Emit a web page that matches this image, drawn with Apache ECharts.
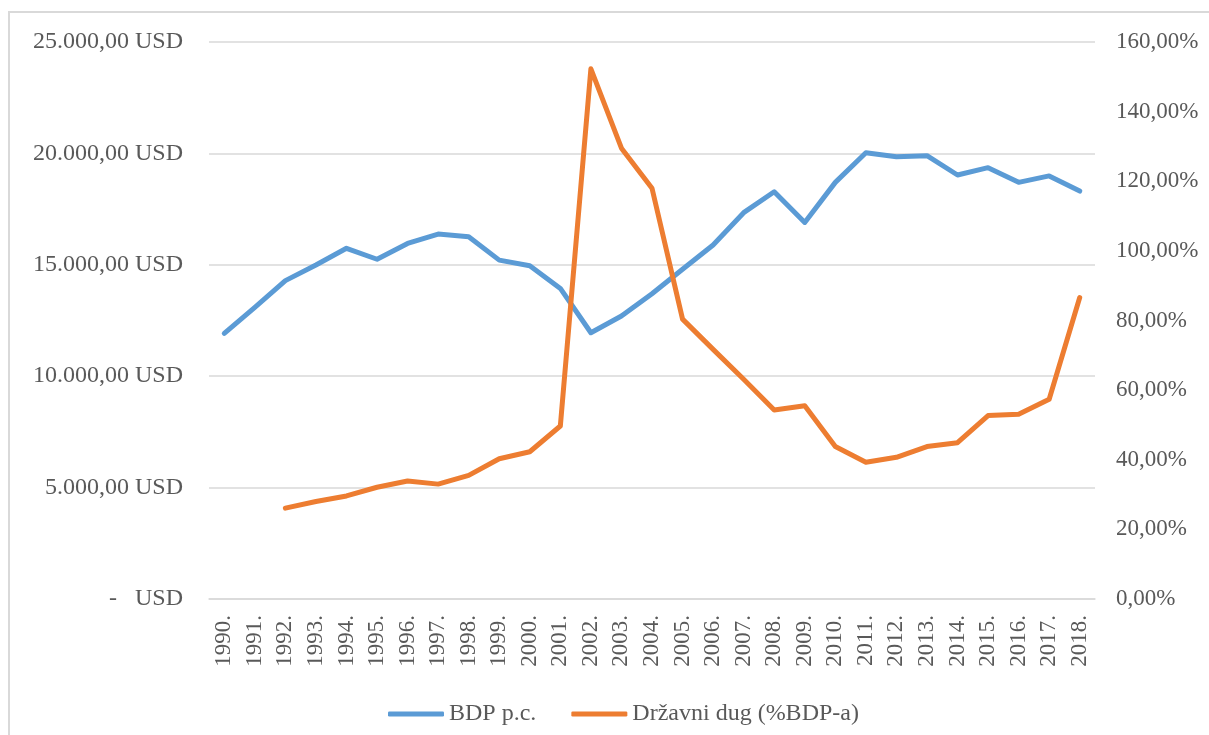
<!DOCTYPE html>
<html>
<head>
<meta charset="utf-8">
<script src="https://cdn.jsdelivr.net/npm/echarts@6/dist/echarts.min.js"></script>
<style>
  html, body { margin: 0; padding: 0; background: #fff; }
  #frame { position: absolute; left: 8px; top: 11px; right: -5px; bottom: -5px;
           border-left: 2px solid #d9d9d9; border-top: 2px solid #d9d9d9; }
  #chart { position: absolute; left: 0; top: 0; width: 1209px; height: 735px; }
</style>
</head>
<body>
<div id="frame"></div>
<div id="chart"></div>
<script>
// godine
var godine = ['1990.', '1991.', '1992.', '1993.', '1994.', '1995.', '1996.', '1997.', '1998.', '1999.',
  '2000.', '2001.', '2002.', '2003.', '2004.', '2005.', '2006.', '2007.', '2008.', '2009.',
  '2010.', '2011.', '2012.', '2013.', '2014.', '2015.', '2016.', '2017.', '2018.'];

// BDP po stanovniku (USD)
var bdpPc = [11920, 13090, 14290, 14990, 15740, 15250, 15960, 16380, 16260, 15210,
  14960, 13940, 11950, 12700, 13700, 14800, 15890, 17340, 18280, 16900,
  18700, 20030, 19850, 19900, 19030, 19360, 18700, 18990, 18310];

// Državni dug (% BDP-a), nema podataka za 1990. i 1991.
var drzavniDug = [null, null, 26.1, 28.0, 29.6, 32.1, 33.9, 33.0, 35.5, 40.3,
  42.3, 49.7, 152.3, 129.5, 118.0, 80.4, 71.7, 63.1, 54.3, 55.5,
  43.8, 39.3, 40.7, 43.8, 44.9, 52.7, 53.1, 57.4, 86.6];

var font = 'Liberation Serif, Times New Roman, serif';

function usd(v) {
  if (v === 0) return '-   USD';
  var s = String(v).replace(/\B(?=(\d{3})+(?!\d))/g, '.');
  return s + ',00 USD';
}

var myChart = echarts.init(document.getElementById('chart'));

var option = {
  animation: false,
  grid: { left: 209, right: 114, top: 42, bottom: 136 },
  legend: {
    top: 697,
    left: 383,
    itemWidth: 56,
    itemHeight: 5,
    itemGap: 35,
    icon: 'roundRect',
    textStyle: { fontFamily: font, fontSize: 24, color: '#595959' },
    data: ['BDP p.c.', 'Državni dug (%BDP-a)']
  },
  xAxis: {
    type: 'category',
    data: godine,
    boundaryGap: true,
    axisLine: { lineStyle: { color: '#d9d9d9', width: 1.5 } },
    axisTick: { show: false },
    axisLabel: { rotate: 90, margin: 16, fontFamily: font, fontSize: 23, color: '#595959' }
  },
  yAxis: [{
    type: 'value',
    min: 0,
    max: 25000,
    interval: 5000,
    axisLine: { show: false },
    axisTick: { show: false },
    splitLine: { lineStyle: { color: '#d9d9d9', width: 1.5 } },
    axisLabel: { margin: 26, fontFamily: font, fontSize: 24, color: '#595959', formatter: usd }
  }, {
    type: 'value',
    min: 0,
    max: 160,
    interval: 20,
    position: 'right',
    axisLine: { show: false },
    axisTick: { show: false },
    splitLine: { show: false },
    axisLabel: { margin: 21, fontFamily: font, fontSize: 23, color: '#595959',
      formatter: function (v) { return v + ',00%'; } }
  }],
  series: [{
    name: 'BDP p.c.',
    type: 'line',
    data: bdpPc,
    yAxisIndex: 0,
    symbol: 'none',
    color: '#5b9bd5',
    lineStyle: { width: 5, cap: 'round', join: 'round' }
  }, {
    name: 'Državni dug (%BDP-a)',
    type: 'line',
    data: drzavniDug,
    yAxisIndex: 1,
    symbol: 'none',
    color: '#ed7d31',
    lineStyle: { width: 5, cap: 'round', join: 'round' }
  }]
};

myChart.setOption(option);
</script>
</body>
</html>
